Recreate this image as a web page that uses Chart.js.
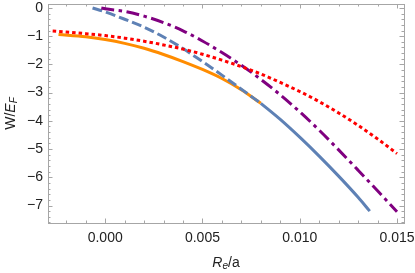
<!DOCTYPE html>
<html>
<head>
<meta charset="utf-8">
<script src="https://cdn.jsdelivr.net/npm/chart.js@4"></script>
<style>
html,body{margin:0;padding:0;background:#fff;}
</style>
</head>
<body>
<canvas id="myChart" width="415" height="273"></canvas>
<script>
// curves
const orangeX = [-0.0024, -0.001, 0, 0.001, 0.002, 0.003, 0.004, 0.005, 0.006, 0.007, 0.008];
const orangeY = [-0.94, -1.02, -1.12, -1.255, -1.43, -1.65, -1.90, -2.18, -2.50, -2.90, -3.38];

const blueX = [0.008, 0.009, 0.010, 0.011, 0.012, 0.013, 0.0136];
const blueY = [-3.38, -3.95, -4.58, -5.25, -5.96, -6.71, -7.20];

const dashedX = [-0.00065, 0, 0.001, 0.002, 0.003, 0.004, 0.005, 0.006, 0.007, 0.008];
const dashedY = [0, -0.14, -0.40, -0.68, -1.03, -1.44, -1.90, -2.38, -2.88, -3.38];

const purpleX = [-0.0002, 0, 0.001, 0.002, 0.003, 0.004, 0.005, 0.006, 0.007, 0.008, 0.009, 0.010, 0.011, 0.012, 0.013, 0.014, 0.015];
const purpleY = [0, -0.03, -0.12, -0.29, -0.52, -0.81, -1.17, -1.58, -2.03, -2.53, -3.08, -3.68, -4.33, -5.03, -5.75, -6.48, -7.22];

const redX = [-0.0027, -0.002, -0.001, 0, 0.001, 0.002, 0.003, 0.004, 0.005, 0.006, 0.007, 0.008, 0.009, 0.010, 0.011, 0.012, 0.013, 0.014, 0.015];
const redY = [-0.82, -0.85, -0.91, -0.98, -1.07, -1.18, -1.31, -1.46, -1.64, -1.85, -2.08, -2.34, -2.64, -2.96, -3.32, -3.72, -4.16, -4.64, -5.16];

const xTicks = [0, 0.005, 0.010, 0.015];
const yTicks = [0, -1, -2, -3, -4, -5, -6, -7];

function pts(xs, ys) {
    return xs.map((x, i) => ({x: x, y: ys[i]}));
}

const FONT = 'Liberation Sans, Arial, sans-serif';
const frameColor = '#a6a6a6';

// frame with inward ticks like Mathematica
const framePlugin = {
    id: 'frame',
    beforeDatasetsDraw(chart) {
        const ctx = chart.ctx;
        const a = chart.chartArea;
        const xs = chart.scales.x, ys = chart.scales.y;
        ctx.save();
        ctx.strokeStyle = frameColor;
        ctx.lineWidth = 1;
        ctx.strokeRect(a.left + 0.5, a.top + 0.5, a.right - a.left, a.bottom - a.top);
        ctx.beginPath();
        for (let k = -2; k <= 15; k++) {
            const v = k / 1000;
            const len = (k % 5 === 0) ? 4.5 : 2.5;
            const px = Math.round(xs.getPixelForValue(v)) + 0.5;
            ctx.moveTo(px, a.bottom); ctx.lineTo(px, a.bottom - len);
            ctx.moveTo(px, a.top); ctx.lineTo(px, a.top + len);
        }
        for (let k = 0; k <= 38; k++) {
            const v = -k * 0.2;
            const len = (k % 5 === 0) ? 4.5 : 2.5;
            const py = Math.round(ys.getPixelForValue(v)) + 0.5;
            ctx.moveTo(a.left, py); ctx.lineTo(a.left + len, py);
            ctx.moveTo(a.right, py); ctx.lineTo(a.right - len, py);
        }
        ctx.stroke();
        ctx.restore();
    }
};

function drawRich(ctx, parts, cx, cy) {
    let total = 0;
    parts.forEach(p => {
        ctx.font = (p.it ? 'italic ' : '') + (p.sub ? '10px ' : '14px ') + FONT;
        p.w = ctx.measureText(p.t).width;
        total += p.w;
    });
    let x = cx - total / 2;
    parts.forEach(p => {
        ctx.font = (p.it ? 'italic ' : '') + (p.sub ? '10px ' : '14px ') + FONT;
        ctx.fillText(p.t, x, cy + (p.sub ? 3 : 0));
        x += p.w;
    });
}

const titlePlugin = {
    id: 'titles',
    afterDraw(chart) {
        const ctx = chart.ctx;
        const a = chart.chartArea;
        ctx.save();
        ctx.fillStyle = '#222';
        ctx.textBaseline = 'middle';
        ctx.textAlign = 'left';
        drawRich(ctx, [{t: 'R', it: true}, {t: 'e', it: true, sub: true}, {t: '/a'}], (a.left + a.right) / 2, 263);
        ctx.translate(11, (a.top + a.bottom) / 2);
        ctx.rotate(-Math.PI / 2);
        drawRich(ctx, [{t: 'W/'}, {t: 'E', it: true}, {t: 'F', it: true, sub: true}], 0, 0);
        ctx.restore();
    }
};

const ctx = document.getElementById('myChart').getContext('2d');
const myChart = new Chart(ctx, {
    type: 'scatter',
    data: {
        datasets: [
            {data: pts(redX, redY), borderColor: '#ff0000', borderDash: [3.5, 3], borderCapStyle: 'butt'},
            {data: pts(purpleX, purpleY), borderColor: '#800080', borderDash: [13, 4.5, 3.5, 4.5], borderCapStyle: 'butt'},
            {data: pts(dashedX, dashedY), borderColor: '#5e81b5', borderDash: [10, 4], borderCapStyle: 'butt'},
            {data: pts(blueX, blueY), borderColor: '#5e81b5'},
            {data: pts(orangeX, orangeY), borderColor: '#ff8c00'}
        ].map(d => Object.assign({showLine: true, borderWidth: 3, pointRadius: 0, cubicInterpolationMode: 'monotone', fill: false}, d))
    },
    options: {
        responsive: false,
        animation: false,
        devicePixelRatio: 1,
        layout: {padding: {top: 4, right: 11, left: 0, bottom: 0}},
        plugins: {legend: {display: false}, tooltip: {enabled: false}},
        scales: {
            x: {
                type: 'linear',
                min: -0.00294,
                max: 0.01536,
                grid: {display: false, drawTicks: false},
                border: {display: false},
                afterBuildTicks: s => { s.ticks = xTicks.map(v => ({value: v})); },
                afterFit: s => { s.height = 50; s.paddingLeft = 0; s.paddingRight = 0; },
                ticks: {
                    autoSkip: false,
                    maxRotation: 0,
                    padding: 7,
                    color: '#222',
                    font: {family: FONT, size: 14},
                    callback: v => v.toFixed(3)
                }
            },
            y: {
                type: 'linear',
                min: -7.62,
                max: 0.14,
                grid: {display: false, drawTicks: false},
                border: {display: false},
                afterBuildTicks: s => { s.ticks = yTicks.map(v => ({value: v})); },
                afterFit: s => { s.width = 48; s.paddingTop = 0; s.paddingBottom = 0; },
                ticks: {
                    autoSkip: false,
                    padding: 5,
                    color: '#222',
                    font: {family: FONT, size: 14},
                    callback: v => v === 0 ? '0' : '\u2212' + Math.abs(v)
                }
            }
        }
    },
    plugins: [framePlugin, titlePlugin]
});
</script>
</body>
</html>
